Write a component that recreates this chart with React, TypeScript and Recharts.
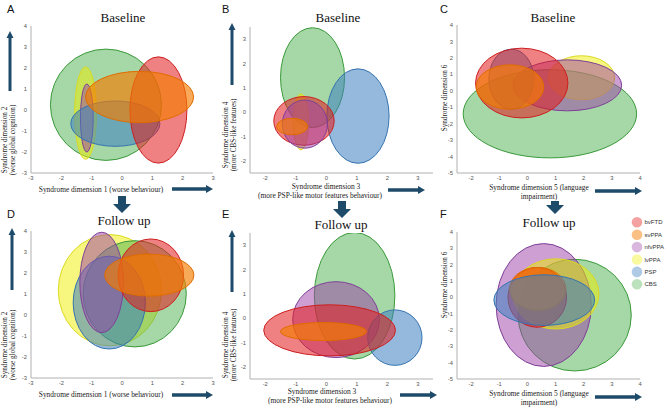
import { ScatterChart, Scatter, XAxis, YAxis } from 'recharts'

// group colours (fill drawn with opacity, stroke solid)
const groups = ['bvFTD', 'svPPA', 'nfvPPA', 'lvPPA', 'PSP', 'CBS']
const fills: Record<string, string> = {
  bvFTD: '#e41a1c', svPPA: '#f57c00', nfvPPA: '#9b3fa8', lvPPA: '#f0f000', PSP: '#3c7fc0', CBS: '#4caf50',
}
const strokes: Record<string, string> = {
  bvFTD: '#cc1f1f', svPPA: '#e06c00', nfvPPA: '#7f3f98', lvPPA: '#dada20', PSP: '#3573b0', CBS: '#3a9a3a',
}
const alphas: Record<string, number> = {
  bvFTD: 0.55, svPPA: 0.65, nfvPPA: 0.5, lvPPA: 0.5, PSP: 0.55, CBS: 0.5,
}

// ellipses: centre (x, y) and half-widths (rx, ry) in axis units, in drawing order
const baselineD12 = [
  { g: 'CBS', x: -0.53, y: 0.25, rx: 1.83, ry: 2.65 },
  { g: 'lvPPA', x: -1.2, y: -0.15, rx: 0.36, ry: 2.2 },
  { g: 'nfvPPA', x: -1.16, y: -0.38, rx: 0.21, ry: 1.62 },
  { g: 'PSP', x: -0.22, y: -0.65, rx: 1.47, ry: 1.08 },
  { g: 'bvFTD', x: 1.2, y: 0, rx: 0.94, ry: 2.53 },
  { g: 'svPPA', x: 0.58, y: 0.62, rx: 1.78, ry: 1.22 },
]
const baselineD34 = [
  { g: 'CBS', x: -0.45, y: 1.42, rx: 1.05, ry: 2.05 },
  { g: 'PSP', x: 1.04, y: -0.16, rx: 1.02, ry: 1.94 },
  { g: 'lvPPA', x: -0.83, y: -0.4, rx: 0.25, ry: 1.15 },
  { g: 'bvFTD', x: -0.73, y: -0.36, rx: 0.99, ry: 1.0 },
  { g: 'nfvPPA', x: -0.7, y: -0.49, rx: 0.74, ry: 0.99 },
  { g: 'svPPA', x: -1.12, y: -0.59, rx: 0.51, ry: 0.34 },
]
const baselineD56 = [
  { g: 'CBS', x: 0.8, y: -1.4, rx: 3.08, ry: 2.68 },
  { g: 'lvPPA', x: 1.92, y: 0.79, rx: 1.18, ry: 1.34 },
  { g: 'nfvPPA', x: 1.42, y: 0.33, rx: 1.93, ry: 1.55 },
  { g: 'PSP', x: -0.57, y: 0.71, rx: 0.8, ry: 1.82 },
  { g: 'bvFTD', x: -0.2, y: 0.47, rx: 1.64, ry: 2.12 },
  { g: 'svPPA', x: -0.62, y: 0.23, rx: 1.2, ry: 1.35 },
]
const followD12 = [
  { g: 'lvPPA', x: -0.4, y: 1.18, rx: 1.7, ry: 2.65 },
  { g: 'CBS', x: 0.42, y: 1.01, rx: 1.7, ry: 2.53 },
  { g: 'PSP', x: -0.42, y: 0.59, rx: 1.19, ry: 2.21 },
  { g: 'nfvPPA', x: -0.67, y: 1.55, rx: 0.72, ry: 2.39 },
  { g: 'bvFTD', x: 0.95, y: 1.89, rx: 1.08, ry: 1.73 },
  { g: 'svPPA', x: 0.9, y: 1.9, rx: 1.47, ry: 1.0 },
]
const followD34 = [
  { g: 'CBS', x: 0.93, y: 0.92, rx: 1.32, ry: 2.6 },
  { g: 'nfvPPA', x: 0.32, y: -0.06, rx: 1.42, ry: 1.56 },
  { g: 'PSP', x: 2.25, y: -0.8, rx: 0.89, ry: 1.14 },
  { g: 'bvFTD', x: 0.11, y: -0.5, rx: 2.16, ry: 1.05 },
  { g: 'svPPA', x: -0.09, y: -0.55, rx: 1.41, ry: 0.37 },
]
const followD56 = [
  { g: 'CBS', x: 1.68, y: -1.09, rx: 2.01, ry: 3.42 },
  { g: 'nfvPPA', x: 0.58, y: -0.47, rx: 1.69, ry: 3.76 },
  { g: 'lvPPA', x: 1.01, y: 0.21, rx: 1.53, ry: 2.15 },
  { g: 'bvFTD', x: 0.35, y: 0, rx: 1.04, ry: 1.83 },
  { g: 'svPPA', x: 0.37, y: 0.51, rx: 1.0, ry: 1.32 },
  { g: 'PSP', x: 0.6, y: -0.17, rx: 1.79, ry: 1.55 },
]

const ticks12x = [-3, -2, -1, 0, 1, 2, 3]
const ticks12y = [-3, -2, -1, 0, 1, 2, 3, 4]
const ticks34x = [-2, -1, 0, 1, 2, 3]
const ticks34y = [-2, -1, 0, 1, 2, 3]
const ticks56x = [-2, -1, 0, 1, 2, 3, 4]
const ticks56y = [-5, -4, -3, -2, -1, 0, 1, 2, 3, 4]

const panels = [
  { id: 'A', data: baselineD12, left: 31, top: 26, w: 182, h: 147, xd: [-3, 3], yd: [-3, 4], xt: ticks12x, yt: ticks12y },
  { id: 'B', data: baselineD34, left: 250, top: 27, w: 183, h: 146, xd: [-2.5, 3.5], yd: [-2.5, 3.5], xt: ticks34x, yt: ticks34y },
  { id: 'C', data: baselineD56, left: 457, top: 25, w: 183, h: 148, xd: [-2.5, 4], yd: [-5, 4], xt: ticks56x, yt: ticks56y },
  { id: 'D', data: followD12, left: 31, top: 231, w: 182, h: 147, xd: [-3, 3], yd: [-3, 4], xt: ticks12x, yt: ticks12y },
  { id: 'E', data: followD34, left: 250, top: 233, w: 183, h: 146, xd: [-2.5, 3.5], yd: [-2.5, 3.5], xt: ticks34x, yt: ticks34y },
  { id: 'F', data: followD56, left: 457, top: 232, w: 183, h: 147, xd: [-2.5, 4], yd: [-5, 4], xt: ticks56x, yt: ticks56y },
]

const YW = 18
const XH = 12
const NAVY = '#1f4b6a'
const SERIF = '"Liberation Serif", "Times New Roman", serif'
const SANS = '"Liberation Sans", Arial, sans-serif'

function Panel({ p }: { p: any }) {
  const kx = p.w / (p.xd[1] - p.xd[0])
  const ky = p.h / (p.yd[1] - p.yd[0])
  const shape = (props: any) => {
    const d = props.payload
    const cx = props.cx ?? props.x + (props.width || 0) / 2
    const cy = props.cy ?? props.y + (props.height || 0) / 2
    return (
      <ellipse
        cx={cx}
        cy={cy}
        rx={d.rx * kx}
        ry={d.ry * ky}
        fill={fills[d.g]}
        fillOpacity={alphas[d.g]}
        stroke={strokes[d.g]}
        strokeWidth={1}
      />
    )
  }
  const tick = { fontSize: 5.8, fill: '#555', fontFamily: SANS }
  return (
    <div style={{ position: 'absolute', left: p.left - YW, top: p.top - 2 }}>
      <ScatterChart width={p.w + YW + 2} height={p.h + 2 + XH} margin={{ top: 2, right: 2, left: 0, bottom: 0 }}>
        <XAxis type="number" dataKey="x" domain={p.xd} ticks={p.xt} interval={0} height={XH} allowDataOverflow
          tick={tick} tickLine={false} tickSize={2} tickMargin={1} axisLine={{ stroke: '#b0b0b0' }} />
        <YAxis type="number" dataKey="y" domain={p.yd} ticks={p.yt} interval={0} width={YW} allowDataOverflow
          tick={tick} tickLine={false} tickSize={2} tickMargin={2} axisLine={{ stroke: '#b0b0b0' }} />
        <Scatter data={p.data} shape={shape} isAnimationActive={false} />
      </ScatterChart>
    </div>
  )
}

function UpArrow({ x, y1, y2 }: { x: number; y1: number; y2: number }) {
  return <path d={`M${x - 1.5},${y1} L${x - 1.5},${y2 + 7} L${x - 3.5},${y2 + 7} L${x},${y2} L${x + 3.5},${y2 + 7} L${x + 1.5},${y2 + 7} L${x + 1.5},${y1} Z`} fill={NAVY} />
}
function RightArrow({ y, x1, x2 }: { y: number; x1: number; x2: number }) {
  return <path d={`M${x1},${y - 1.8} L${x2 - 7},${y - 1.8} L${x2 - 7},${y - 4} L${x2},${y} L${x2 - 7},${y + 4} L${x2 - 7},${y + 1.8} L${x1},${y + 1.8} Z`} fill={NAVY} />
}
function DownArrow({ x, y1, y2 }: { x: number; y1: number; y2: number }) {
  return <path d={`M${x - 4},${y1} L${x + 4},${y1} L${x + 4},${y2 - 9} L${x + 9},${y2 - 9} L${x},${y2} L${x - 9},${y2 - 9} L${x - 4},${y2 - 9} Z`} fill={NAVY} />
}

function VLabel({ x, y, text }: { x: number; y: number; text: string }) {
  return <text transform={`translate(${x},${y}) rotate(-90)`} textAnchor="middle" fontSize={7.2} fontFamily={SERIF} fill="#222">{text}</text>
}
function HLabel({ x, y, text }: { x: number; y: number; text: string }) {
  return <text x={x} y={y} textAnchor="middle" fontSize={7.4} fontFamily={SERIF} fill="#222">{text}</text>
}

export default function App() {
  const titles = [
    { t: 'Baseline', x: 123, y: 21.5 }, { t: 'Baseline', x: 338, y: 21.5 }, { t: 'Baseline', x: 553, y: 21.5 },
    { t: 'Follow up', x: 124, y: 225 }, { t: 'Follow up', x: 341, y: 229 }, { t: 'Follow up', x: 549, y: 227 },
  ]
  const letters = [
    { t: 'A', x: 7, y: 12.5 }, { t: 'B', x: 222, y: 12.5 }, { t: 'C', x: 440, y: 12.5 },
    { t: 'D', x: 7, y: 218 }, { t: 'E', x: 222, y: 218 }, { t: 'F', x: 440, y: 218 },
  ]
  return (
    <div style={{ position: 'absolute', left: 0, top: 0, width: 667, height: 409, background: '#fff', overflow: 'hidden' }}>
      {panels.map((p) => <Panel key={p.id} p={p} />)}
      <svg width={667} height={409} style={{ position: 'absolute', left: 0, top: 0, pointerEvents: 'none' }}>
        {titles.map((t, i) => (
          <text key={i} x={t.x} y={t.y} textAnchor="middle" fontSize={13} fontFamily={SERIF} fill="#111">{t.t}</text>
        ))}
        {letters.map((l) => (
          <text key={l.t} x={l.x} y={l.y} fontSize={11} fontFamily={SANS} fill="#111">{l.t}</text>
        ))}

        {/* A / D */}
        <VLabel x={7} y={140} text="Syndrome dimension 2" />
        <VLabel x={15} y={140} text="(worse global cognition)" />
        <HLabel x={101} y={191.5} text="Syndrome dimension 1 (worse behaviour)" />
        <UpArrow x={10} y1={91} y2={31} />
        <RightArrow y={189} x1={172} x2={213} />
        <VLabel x={7} y={345} text="Syndrome dimension 2" />
        <VLabel x={15} y={345} text="(worse global cognition)" />
        <HLabel x={101} y={397} text="Syndrome dimension 1 (worse behaviour)" />
        <UpArrow x={12} y1={290} y2={228} />
        <RightArrow y={395} x1={172} x2={213} />
        <DownArrow x={122} y1={196} y2={213} />

        {/* B / E */}
        <VLabel x={228} y={135} text="Syndrome dimension 4" />
        <VLabel x={236} y={135} text="(more CBS-like features)" />
        <HLabel x={326} y={188.5} text="Syndrome dimension 3" />
        <HLabel x={320} y={198} text="(more PSP-like motor features behaviour)" />
        <UpArrow x={232} y1={85} y2={23} />
        <RightArrow y={190} x1={388} x2={425} />
        <VLabel x={228} y={345} text="Syndrome dimension 4" />
        <VLabel x={236} y={345} text="(more CBS-like features)" />
        <HLabel x={322} y={393.5} text="Syndrome dimension 3" />
        <HLabel x={330} y={403} text="(more PSP-like motor features behaviour)" />
        <UpArrow x={232} y1={292} y2={230} />
        <RightArrow y={395} x1={400} x2={437} />
        <DownArrow x={342} y1={201} y2={218} />

        {/* C / F */}
        <VLabel x={447} y={98} text="Syndrome dimension 6" />
        <HLabel x={539} y={190} text="Syndrome dimension 5 (language" />
        <HLabel x={539} y={199} text="impairment)" />
        <RightArrow y={191} x1={595} x2={642} />
        <VLabel x={447} y={285} text="Syndrome dimension 6" />
        <HLabel x={539} y={395.5} text="Syndrome dimension 5 (language" />
        <HLabel x={539} y={404.5} text="impairment)" />
        <RightArrow y={397} x1={595} x2={642} />
        <DownArrow x={555} y1={201} y2={214} />

        {/* legend */}
        {groups.map((g, i) => (
          <g key={g}>
            <circle cx={637} cy={222.3 + i * 12.4} r={5.3} fill={fills[g]} fillOpacity={alphas[g] * 0.75} />
            <text x={644.5} y={224.4 + i * 12.4} fontSize={6} fontFamily={SANS} fill="#333">{g}</text>
          </g>
        ))}
      </svg>
    </div>
  )
}
